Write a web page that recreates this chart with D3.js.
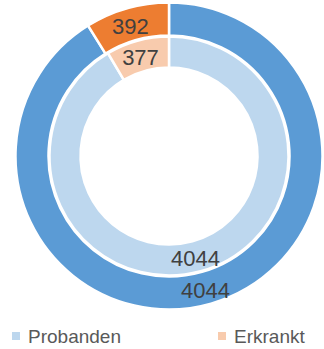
<!DOCTYPE html>
<html>
<head>
<meta charset="utf-8">
<script src="https://cdn.jsdelivr.net/npm/d3@7"></script>
<style>
  html, body { margin: 0; padding: 0; background: #ffffff; }
  svg { display: block; }
</style>
</head>
<body>
<svg id="chart" width="324" height="349"></svg>
<script>
// Categories and the two rings of values (outer ring first, then inner ring)
const categories = ["Probanden", "Erkrankt"];
const outerValues = [4044, 392];
const innerValues = [4044, 377];

const outerColors = ["#5b9bd5", "#ed7d31"];
const innerColors = ["#bdd7ee", "#f8cbad"];

const svg = d3.select("#chart");
const cx = 169, cy = 156;
const g = svg.append("g").attr("transform", `translate(${cx},${cy})`);

const pie = d3.pie().sort(null).value(d => d.value);

function ring(values, colors, rOuter, rInner, labelShift) {
  const data = pie(values.map((v, i) => ({ value: v, cat: categories[i], color: colors[i] })));
  const arc = d3.arc().outerRadius(rOuter).innerRadius(rInner);
  g.selectAll(null)
    .data(data)
    .enter().append("path")
    .attr("d", arc)
    .attr("fill", d => d.data.color)
    .attr("stroke", "#ffffff")
    .attr("stroke-width", 2.5);
  g.selectAll(null)
    .data(data)
    .enter().append("text")
    .attr("x", d => arc.centroid(d)[0] - 1)
    .attr("y", d => arc.centroid(d)[1] + labelShift)
    .attr("text-anchor", "middle")
    .attr("dominant-baseline", "central")
    .attr("font-family", "'Liberation Sans', Arial, sans-serif")
    .attr("font-size", 22)
    .attr("fill", "#404040")
    .text(d => d.data.value);
}

ring(outerValues, outerColors, 153.5, 120.5, 2.5);
ring(innerValues, innerColors, 119.5, 88.5, 2);

// Legend
const legend = svg.append("g");
const legendX = [12, 218];
categories.forEach((c, i) => {
  legend.append("rect")
    .attr("x", legendX[i])
    .attr("y", 332)
    .attr("width", 8)
    .attr("height", 8)
    .attr("fill", innerColors[i]);
  legend.append("text")
    .attr("x", legendX[i] + 16)
    .attr("y", 343)
    .attr("font-family", "'Liberation Sans', Arial, sans-serif")
    .attr("font-size", 19)
    .attr("fill", "#595959")
    .text(c);
});
</script>
</body>
</html>
